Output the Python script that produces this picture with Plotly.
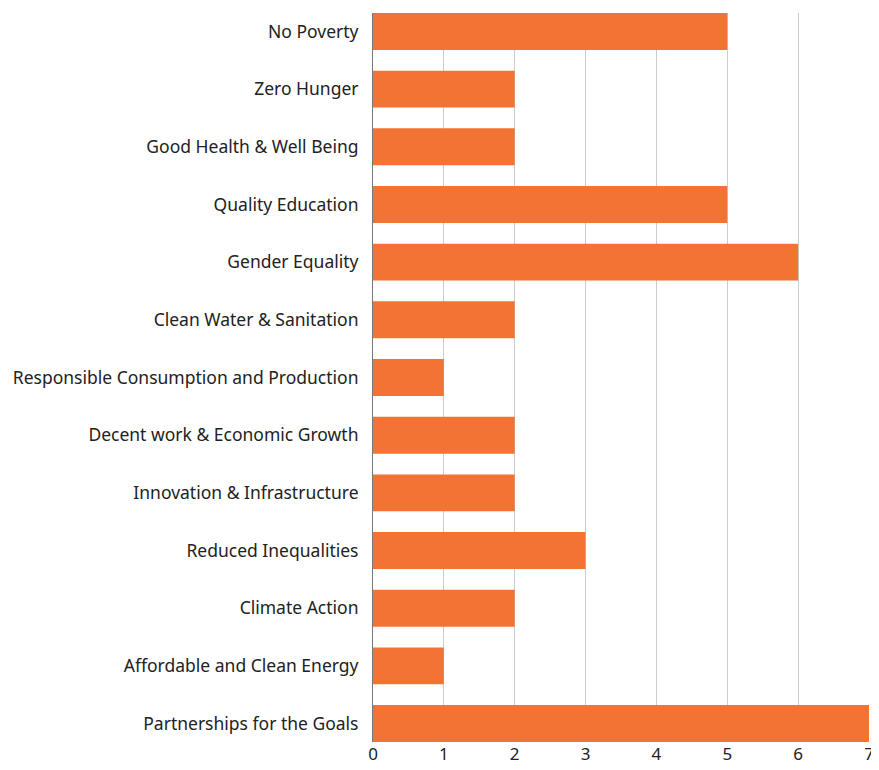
import plotly.graph_objects as go

categories = [
    "No Poverty",
    "Zero Hunger",
    "Good Health & Well Being",
    "Quality Education",
    "Gender Equality",
    "Clean Water & Sanitation",
    "Responsible Consumption and Production",
    "Decent work & Economic Growth",
    "Innovation & Infrastructure",
    "Reduced Inequalities",
    "Climate Action",
    "Affordable and Clean Energy",
    "Partnerships for the Goals",
]
values = [5, 2, 2, 5, 6, 2, 1, 2, 2, 3, 2, 1, 7]
x_ticks = [0, 1, 2, 3, 4, 5, 6, 7]

fig = go.Figure(
    go.Bar(
        y=categories,
        x=values,
        orientation="h",
        marker=dict(color="#F37335", line=dict(width=0)),
        width=0.64,
    )
)

fig.update_layout(
    width=871,
    height=762,
    margin=dict(l=364, r=8, t=5, b=28),
    paper_bgcolor="white",
    plot_bgcolor="white",
    font=dict(family="Noto Sans", size=17, color="#222222"),
    showlegend=False,
    xaxis=dict(
        range=[0, 7],
        tickvals=x_ticks,
        showgrid=True,
        gridcolor="#CCCCCC",
        gridwidth=1,
        zeroline=False,
        showline=False,
        ticks="",
        tickfont=dict(size=17, color="#222222"),
        fixedrange=True,
    ),
    yaxis=dict(
        categoryorder="array",
        categoryarray=categories,
        autorange=False,
        range=[12.32, -0.32],
        showline=True,
        linecolor="#777777",
        linewidth=1,
        showgrid=False,
        ticks="outside",
        ticklen=10,
        tickcolor="rgba(0,0,0,0)",
        tickfont=dict(size=17.5, color="#222222"),
        fixedrange=True,
    ),
)

fig.write_html("out.html")
